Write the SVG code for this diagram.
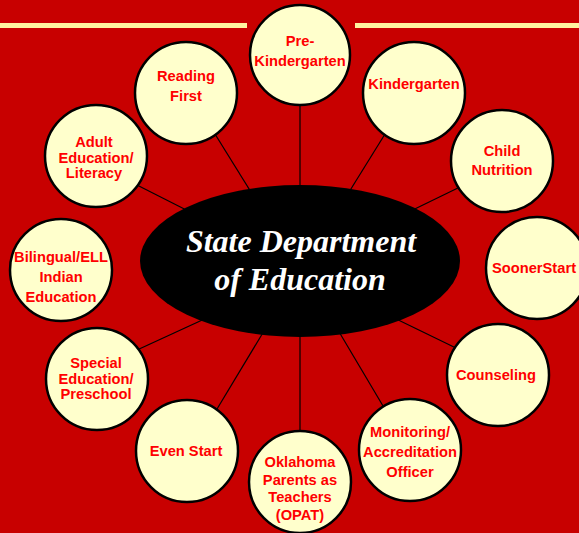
<svg xmlns="http://www.w3.org/2000/svg" width="579" height="533" viewBox="0 0 579 533">
<style>
.n circle{fill:#FFFFCC;stroke:#000;stroke-width:2.5}
.n text{fill:#FF0000;font-family:"Liberation Sans",Arial,sans-serif;font-weight:bold;font-size:14.7px;text-anchor:middle}
.c line{stroke:#000;stroke-width:1.2}
.t{fill:#fff;font-family:"Liberation Serif","Times New Roman",serif;font-weight:bold;font-style:italic;font-size:32px;text-anchor:middle}
</style>
<rect width="579" height="533" fill="#C80000"/>
<rect x="0" y="23" width="247" height="5" fill="#FFF3A0"/>
<rect x="355" y="23" width="224" height="5" fill="#FFF3A0"/>
<g class="c" id="connectors">
<line x1="300" y1="100" x2="300" y2="200"/>
<line x1="390" y1="126" x2="336" y2="213"/>
<line x1="210" y1="126" x2="264" y2="213"/>
<line x1="462" y1="186" x2="388" y2="222"/>
<line x1="133" y1="183" x2="210" y2="222"/>
<line x1="458" y1="349" x2="388" y2="315"/>
<line x1="137" y1="350" x2="211" y2="316"/>
<line x1="386" y1="411" x2="335" y2="325"/>
<line x1="214" y1="414" x2="267" y2="326"/>
<line x1="300" y1="320" x2="300" y2="436"/>
</g>
<g id="center">
<ellipse cx="300" cy="261" rx="160" ry="76" fill="#000"/>
<text class="t" x="301" y="252">State Department</text>
<text class="t" x="300" y="290">of Education</text>
</g>
<g class="n" id="prek"><circle cx="300" cy="55" r="50"/><text x="300" y="46">Pre-</text><text x="300" y="66">Kindergarten</text></g>
<g class="n" id="kindergarten"><circle cx="414" cy="93" r="51"/><text x="414" y="89">Kindergarten</text></g>
<g class="n" id="reading"><circle cx="186" cy="93" r="51"/><text x="186" y="81">Reading</text><text x="186" y="101">First</text></g>
<g class="n" id="nutrition"><circle cx="502" cy="161" r="51"/><text x="502" y="156">Child</text><text x="502" y="175">Nutrition</text></g>
<g class="n" id="adult"><circle cx="96" cy="156" r="51"/><text x="94" y="147">Adult</text><text x="96" y="163">Education/</text><text x="94" y="178">Literacy</text></g>
<g class="n" id="sooner"><circle cx="537" cy="268" r="51"/><text x="534" y="273">SoonerStart</text></g>
<g class="n" id="bilingual"><circle cx="61" cy="270" r="51"/><text x="61" y="262">Bilingual/ELL</text><text x="61" y="282">Indian</text><text x="61" y="302">Education</text></g>
<g class="n" id="counseling"><circle cx="498" cy="375" r="51"/><text x="496" y="380">Counseling</text></g>
<g class="n" id="special"><circle cx="97" cy="379" r="51"/><text x="96" y="368">Special</text><text x="96" y="384">Education/</text><text x="96" y="399">Preschool</text></g>
<g class="n" id="monitoring"><circle cx="410" cy="450" r="51"/><text x="410" y="437">Monitoring/</text><text x="410" y="457">Accreditation</text><text x="410" y="477">Officer</text></g>
<g class="n" id="evenstart"><circle cx="187" cy="451" r="51"/><text x="186" y="456">Even Start</text></g>
<g class="n" id="opat"><circle cx="300" cy="482" r="51"/><text x="300" y="467">Oklahoma</text><text x="300" y="485">Parents as</text><text x="300" y="502">Teachers</text><text x="300" y="520">(OPAT)</text></g>
</svg>
